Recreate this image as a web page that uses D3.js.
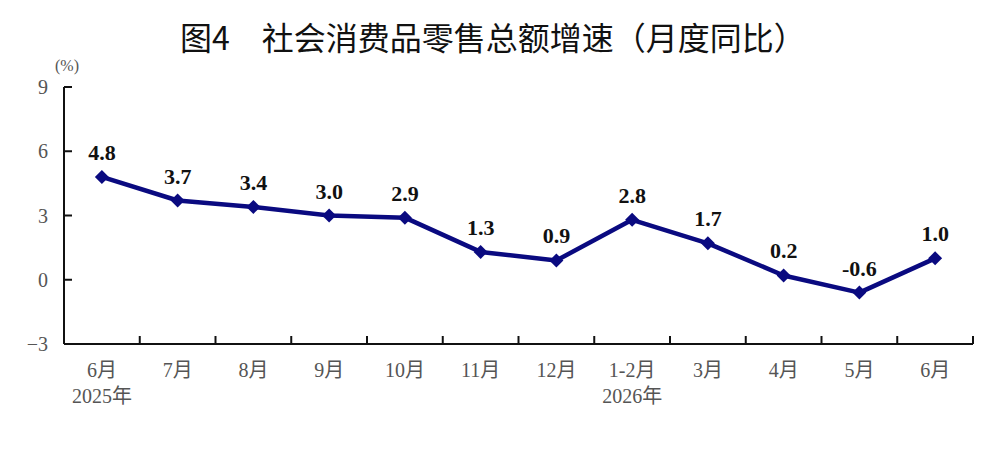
<!DOCTYPE html>
<html lang="zh">
<head>
<meta charset="UTF-8">
<title>社会消费品零售总额增速</title>
<script src="https://d3js.org/d3.v7.min.js"></script>
<style>
    body { margin: 0; background: #ffffff; }
    .title { font-family: "Noto Sans CJK SC", sans-serif; font-size: 32px; font-weight: 400; fill: #111; }
    .tick-y { font-family: "Liberation Serif", "Noto Sans CJK SC", serif; font-size: 20px; fill: #555; }
    .tick-x { font-family: "Liberation Serif", "Noto Sans CJK SC", serif; font-size: 20px; fill: #555; }
    .val { font-family: "Liberation Serif", serif; font-size: 22px; font-weight: bold; fill: #111; }
</style>
</head>
<body>
<svg id="chart" width="1000" height="458"></svg>
<script>
    // data
    const months = ["6月", "7月", "8月", "9月", "10月", "11月", "12月", "1-2月", "3月", "4月", "5月", "6月"];
    const years = ["2025年", "", "", "", "", "", "", "2026年", "", "", "", ""];
    const growth = [4.8, 3.7, 3.4, 3.0, 2.9, 1.3, 0.9, 2.8, 1.7, 0.2, -0.6, 1.0];
    const yTicks = [9, 6, 3, 0, -3];

    const svg = d3.select("#chart");
    const plotLeft = 64, plotRight = 973, plotTop = 87, plotBottom = 344;

    const x = d3.scaleBand().domain(d3.range(months.length)).range([plotLeft, plotRight]);
    const y = d3.scaleLinear().domain([-3, 9]).range([plotBottom, plotTop]);
    const cx = i => x(i) + x.bandwidth() / 2;

    svg.append("text")
        .attr("class", "title")
        .attr("x", 493)
        .attr("y", 50)
        .attr("text-anchor", "middle")
        .text("图4　社会消费品零售总额增速（月度同比）");

    svg.append("text")
        .attr("x", 67)
        .attr("y", 71)
        .attr("text-anchor", "middle")
        .style("font-family", "Liberation Serif, serif")
        .style("font-size", "16px")
        .style("fill", "#555")
        .text("(%)");

    // y axis
    const yAxis = svg.append("g");
    yAxis.append("line")
        .attr("x1", plotLeft).attr("x2", plotLeft)
        .attr("y1", plotTop).attr("y2", plotBottom)
        .attr("stroke", "#111").attr("stroke-width", 2);
    yTicks.forEach(t => {
        yAxis.append("line")
            .attr("x1", plotLeft).attr("x2", plotLeft + 8)
            .attr("y1", y(t)).attr("y2", y(t))
            .attr("stroke", "#111").attr("stroke-width", 2);
        yAxis.append("text")
            .attr("class", "tick-y")
            .attr("x", plotLeft - 16)
            .attr("y", y(t) + 7)
            .attr("text-anchor", "end")
            .text(t < 0 ? "\u2212" + Math.abs(t) : t);
    });

    // x axis
    const xAxis = svg.append("g");
    xAxis.append("line")
        .attr("x1", plotLeft).attr("x2", plotRight)
        .attr("y1", plotBottom).attr("y2", plotBottom)
        .attr("stroke", "#111").attr("stroke-width", 2);
    d3.range(1, months.length + 1).forEach(i => {
        const tx = i < months.length ? x(i) : plotRight;
        xAxis.append("line")
            .attr("x1", tx).attr("x2", tx)
            .attr("y1", plotBottom).attr("y2", plotBottom - 8)
            .attr("stroke", "#111").attr("stroke-width", 2);
    });
    months.forEach((m, i) => {
        xAxis.append("text")
            .attr("class", "tick-x")
            .attr("x", cx(i)).attr("y", 377)
            .attr("text-anchor", "middle")
            .text(m);
        if (years[i]) {
            xAxis.append("text")
                .attr("class", "tick-x")
                .attr("x", cx(i)).attr("y", 403)
                .attr("text-anchor", "middle")
                .text(years[i]);
        }
    });

    // line
    const line = d3.line()
        .x((d, i) => cx(i))
        .y(d => y(d));

    svg.append("path")
        .datum(growth)
        .attr("d", line)
        .attr("fill", "none")
        .attr("stroke", "#0a0a80")
        .attr("stroke-width", 4.5)
        .attr("stroke-linejoin", "round");

    svg.selectAll(".pt")
        .data(growth)
        .enter()
        .append("path")
        .attr("class", "pt")
        .attr("d", d3.symbol().type(d3.symbolDiamond2).size(125))
        .attr("transform", (d, i) => `translate(${cx(i)},${y(d)})`)
        .attr("fill", "#0a0a80");

    svg.selectAll(".val")
        .data(growth)
        .enter()
        .append("text")
        .attr("class", "val")
        .attr("x", (d, i) => cx(i))
        .attr("y", d => y(d) - 17)
        .attr("text-anchor", "middle")
        .text(d => d.toFixed(1));
</script>
</body>
</html>
